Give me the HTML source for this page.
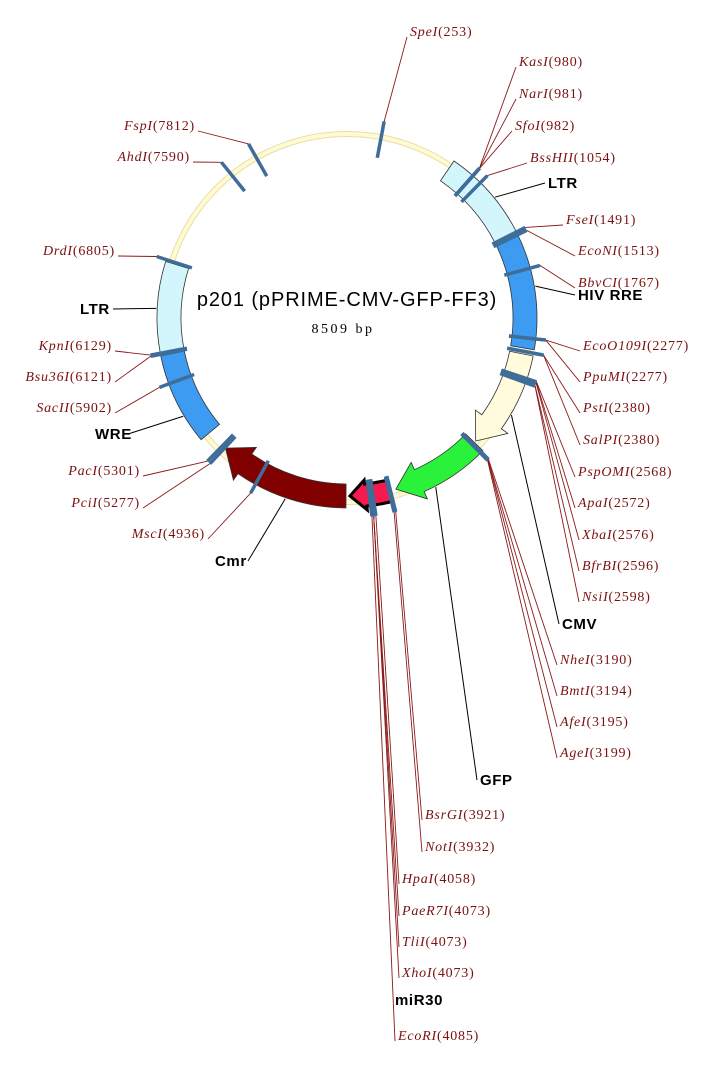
<!DOCTYPE html>
<html><head><meta charset="utf-8">
<style>
html,body{margin:0;padding:0;background:#fff;}
svg{display:block;}
.enz{font-family:"Liberation Serif",serif;font-size:14px;letter-spacing:0.8px;fill:#7a1010;}
.feat{font-family:"Liberation Sans",sans-serif;font-size:15px;letter-spacing:0.6px;font-weight:bold;fill:#000;}
</style></head>
<body>
<svg id="map" width="714" height="1065" viewBox="0 0 714 1065" xmlns="http://www.w3.org/2000/svg">
<rect width="714" height="1065" fill="#fff"/>
<text x="347" y="306" text-anchor="middle" font-family="Liberation Sans, sans-serif" font-size="20" letter-spacing="0.9" fill="#000">p201 (pPRIME-CMV-GFP-FF3)</text>
<text x="343" y="333" text-anchor="middle" font-family="Liberation Serif, serif" font-size="14" letter-spacing="2.5" fill="#000">8509 bp</text>
</svg>
<script>
const total = 8509;
const enzNames = ["SpeI","KasI","NarI","SfoI","BssHII","FseI","EcoNI","BbvCI","EcoO109I","PpuMI","PstI","SalPI","PspOMI","ApaI","XbaI","BfrBI","NsiI","NheI","BmtI","AfeI","AgeI","BsrGI","NotI","HpaI","PaeR7I","TliI","XhoI","EcoRI","FspI","AhdI","DrdI","KpnI","Bsu36I","SacII","PacI","PciI","MscI"];
const enzPos = [253,980,981,982,1054,1491,1513,1767,2277,2277,2380,2380,2568,2572,2576,2596,2598,3190,3194,3195,3199,3921,3932,4058,4073,4073,4073,4085,7812,7590,6805,6129,6121,5902,5301,5277,4936];
// label layout (x, y center)
const enzLabelX = [410,519,519,515,530,566,578,578,583,583,583,583,578,578,582,582,582,560,560,560,560,425,425,402,402,402,402,398,195,190,115,112,112,112,140,140,205];
const enzLabelY = [32,62,94,126,158,220,251,283,346,377,408,440,472,503,535,566,597,660,691,722,753,815,847,879,911,942,973,1036,126,157,251,346,377,408,471,503,534];

const featNames = ["LTR","HIV RRE","CMV","GFP","miR30","Cmr","WRE","LTR"];
const featStart = [810,1491,2400,3175,3920,4262,5440,6120];
const featEnd   = [1491,2355,3160,3878,4232,5272,6110,6792];
const featArrow = [1,1,1,1,1,1,1,1].map((v,i)=>[0,0,1,1,1,1,0,0][i]);
const featFill = ["#d2f6fc","#3d9bf2","#fffbdc","#2af23a","#f8194f","#800000","#3d9bf2","#d2f6fc"];
const featLabelX = [548,578,562,480,395,215,95,80];
const featLabelY = [187,299,628,784,1004,565,438,313];
const featLineFrom = [1200,1900,2850,3600,0,4700,5650,6450];

const cx = 347, cy = 318;
const NS = "http://www.w3.org/2000/svg";
const svg = document.getElementById("map");
function ang(bp){ return bp/total*2*Math.PI; }
function pt(r,bp){ const a=ang(bp); return [cx + r*Math.sin(a), cy - r*Math.cos(a)]; }
function mk(tag, attrs){ const e=document.createElementNS(NS,tag); for(const k in attrs) e.setAttribute(k,attrs[k]); svg.appendChild(e); return e; }

const ring = mk("circle",{cx:cx,cy:cy,r:184,fill:"none",stroke:"#e6e0a8","stroke-width":6});


const ring2 = mk("circle",{cx:cx,cy:cy,r:184,fill:"none",stroke:"#fffad2","stroke-width":4});



function arcD(r1,r2,b1,b2){
  const large = (b2-b1)/total>0.5?1:0;
  const p1=pt(r2,b1), p2=pt(r2,b2), p3=pt(r1,b2), p4=pt(r1,b1);
  return `M${p1} A${r2},${r2} 0 ${large} 1 ${p2} L${p3} A${r1},${r1} 0 ${large} 0 ${p4} Z`;
}
function arrowD(r1,r2,b1,b2,head,w){
  const bh = b2 - head;
  const p1=pt(r2,b1), p2=pt(r2,bh), p3=pt(r2+w,bh), tip=pt((r1+r2)/2,b2), p4=pt(r1-w,bh), p5=pt(r1,bh), p6=pt(r1,b1);
  return `M${p1} A${r2},${r2} 0 0 1 ${p2} L${p3} L${tip} L${p4} L${p5} A${r1},${r1} 0 0 0 ${p6} Z`;
}

for(let i=0;i<featNames.length;i++){
  const r1=166, r2=190;
  const small = featNames[i]==="miR30";
  let d;
  if(featArrow[i]){
    d = arrowD(small?167:r1, small?189:r2, featStart[i], featEnd[i], small?120:190, small?4:8);
  } else d = arcD(r1,r2,featStart[i],featEnd[i]);
  const p = mk("path",{d:d,fill:featFill[i],stroke:small?"#000":"#333","stroke-width":small?3:0.8,"stroke-linejoin":"miter"});
  
  
  const lx = featLabelX[i], ly = featLabelY[i];
  if(featLineFrom[i]>0){
    const a = pt(191, featLineFrom[i]);
    const right = cx < a[0];
    const endX = right ? lx-3 : lx+ (featNames[i].length*10)+3;
    const ln = mk("line",{x1:a[0],y1:a[1],x2:endX,y2:ly-4,stroke:"#000","stroke-width":1});
    
    
  }
  const t = mk("text",{x:lx,y:ly+1,class:"feat"});
  t.textContent = featNames[i];
  
  
}

for(let i=0;i<enzNames.length;i++){
  const a = pt(163,enzPos[i]), b = pt(200,enzPos[i]);
  const left = enzLabelX[i] < 300 && enzPos[i] > total/2;
  const lx = enzLabelX[i], ly = enzLabelY[i];
  const t = mk("text",{x:lx,y:ly+4,class:"enz","text-anchor":left?"end":"start"});
  const s1=document.createElementNS(NS,"tspan"); s1.setAttribute("font-style","italic"); s1.textContent=enzNames[i];
  const s2=document.createElementNS(NS,"tspan"); s2.textContent="("+enzPos[i]+")";
  t.appendChild(s1); t.appendChild(s2);
  
  
  const ex = left ? lx+3 : lx-3;
  const ln = mk("line",{x1:b[0],y1:b[1],x2:ex,y2:ly+5,stroke:"#8b1a1a","stroke-width":0.9});
  
  
  const tk = mk("line",{x1:a[0],y1:a[1],x2:b[0],y2:b[1],stroke:"#3f6d9a","stroke-width":3.5});
  
  
}
</script>
</body></html>
